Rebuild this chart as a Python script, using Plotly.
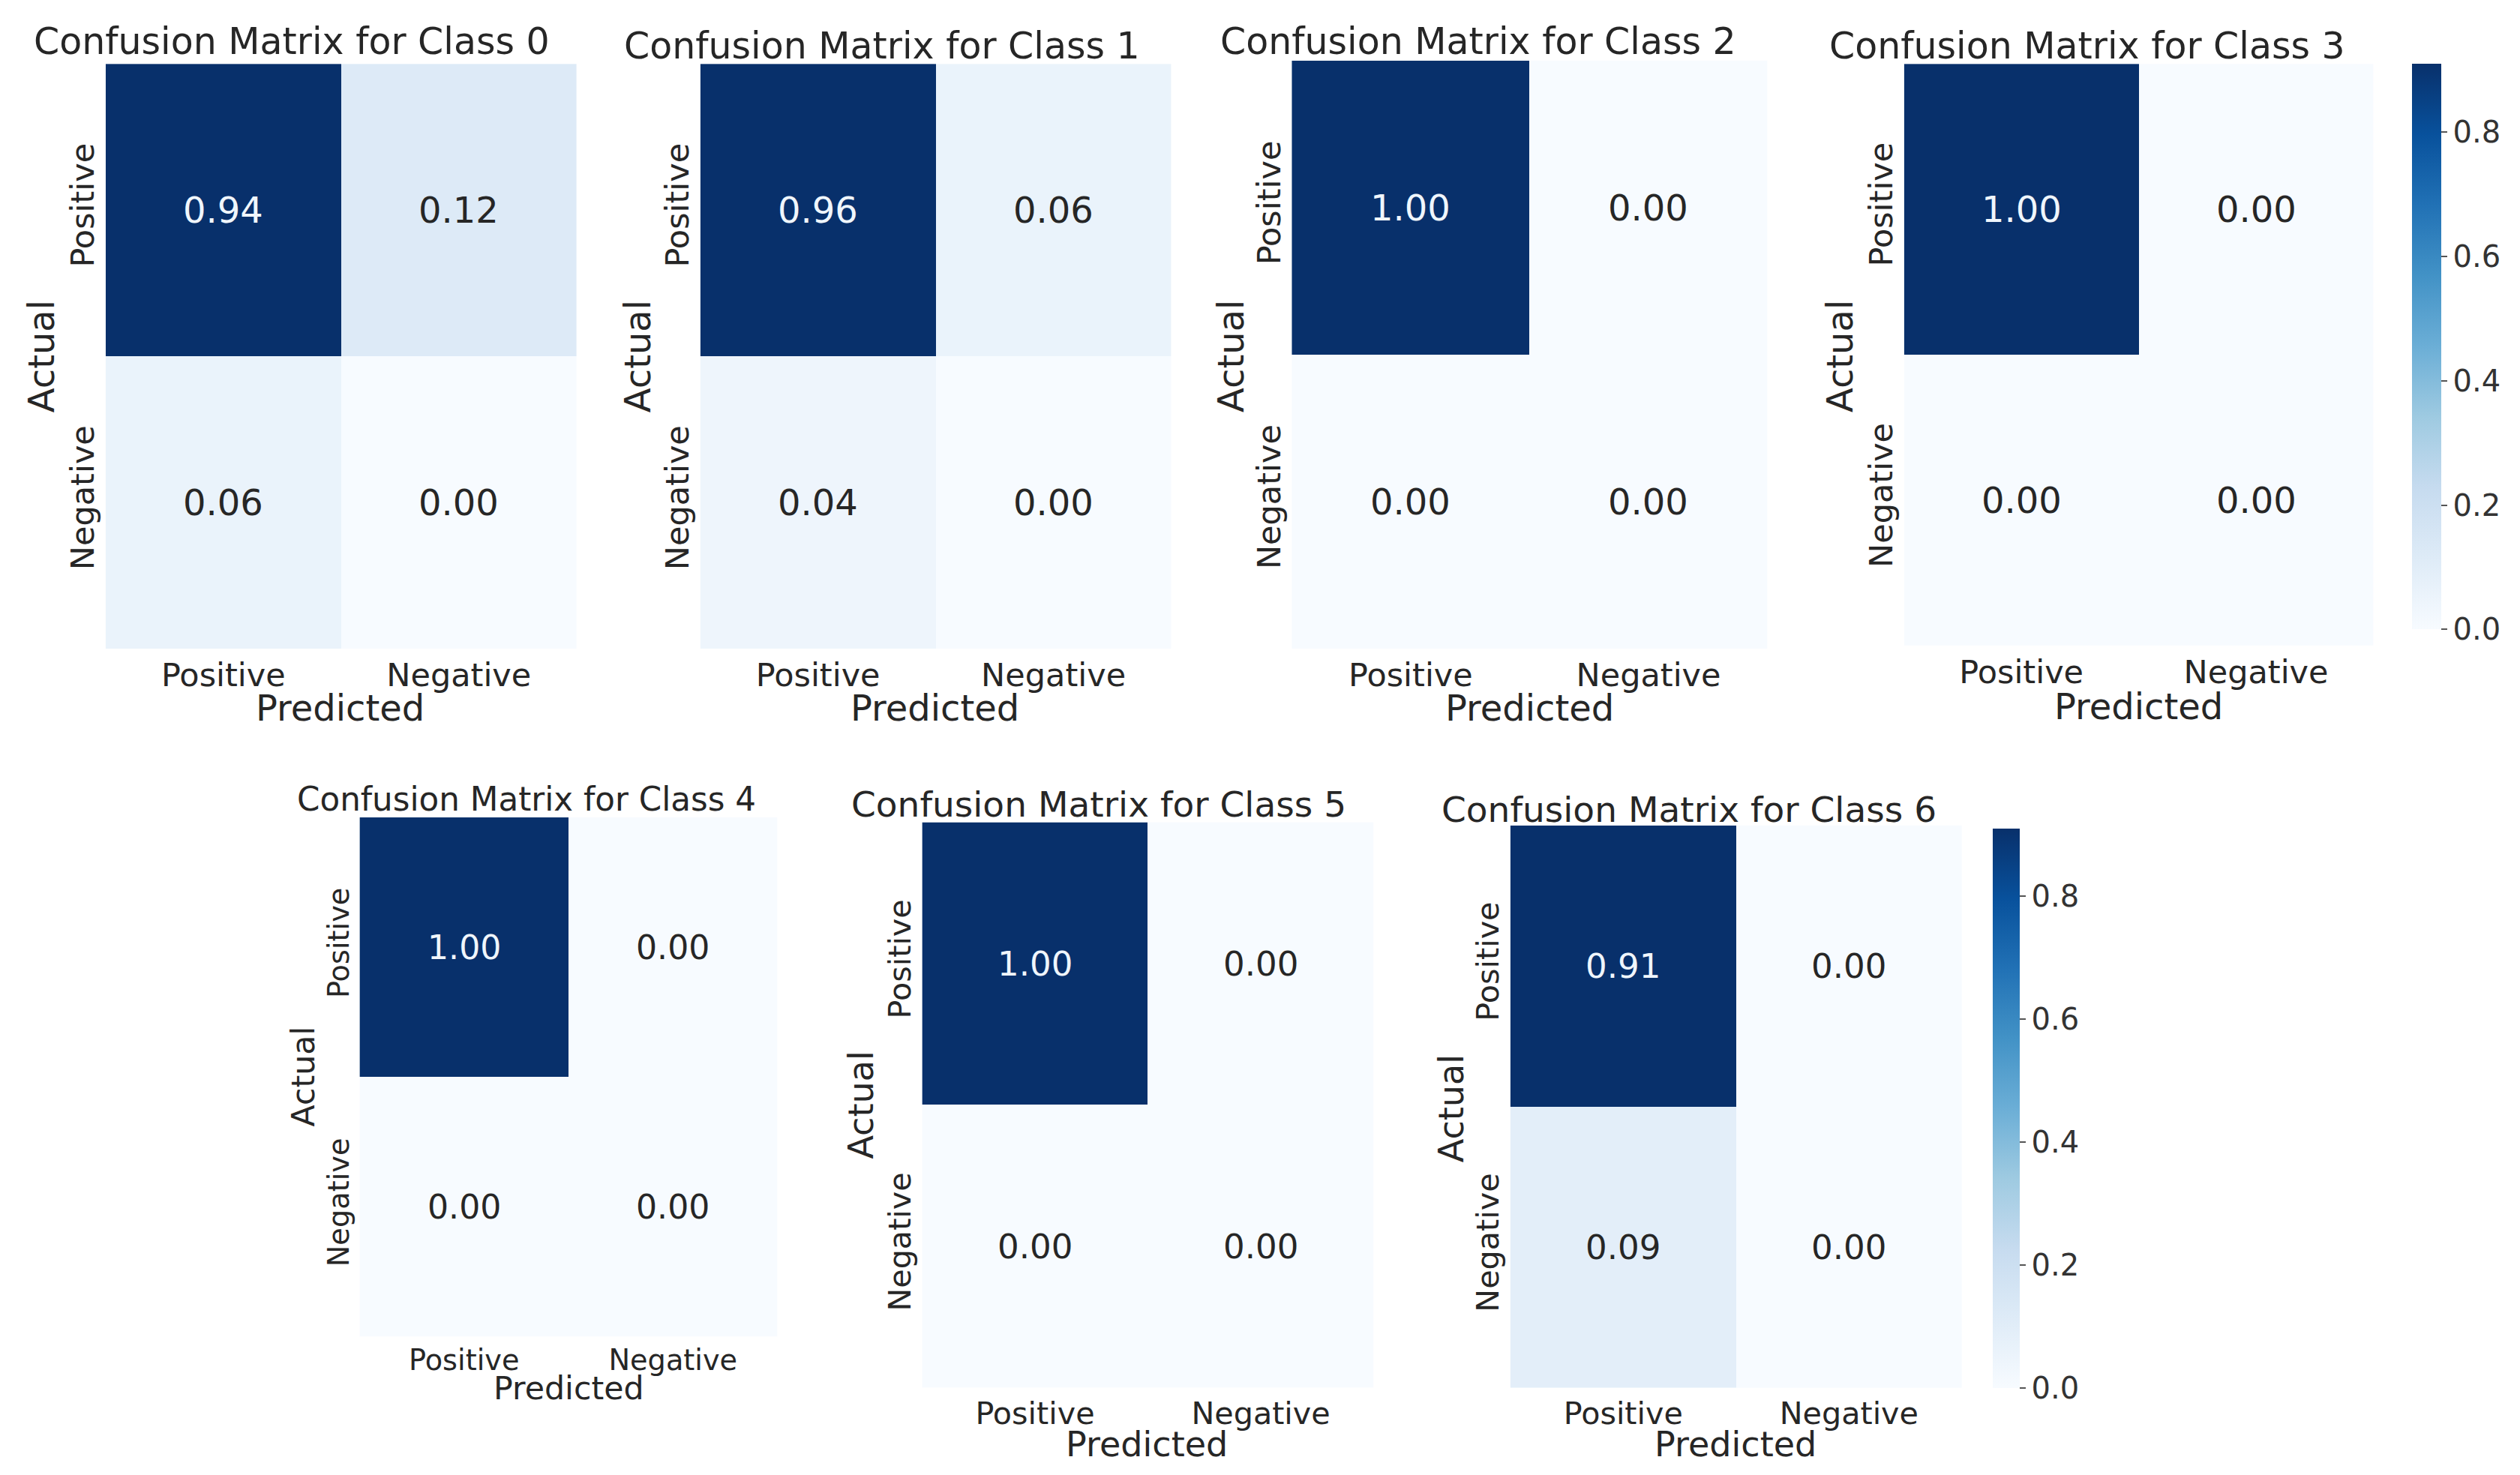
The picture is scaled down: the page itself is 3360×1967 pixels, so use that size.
import plotly.graph_objects as go

# ---------------- data ----------------
labels = ["Positive", "Negative"]
class_names = ["0", "1", "2", "3", "4", "5", "6"]
class0 = [[0.94, 0.12], [0.06, 0.00]]
class1 = [[0.96, 0.06], [0.04, 0.00]]
class2 = [[1.00, 0.00], [0.00, 0.00]]
class3 = [[1.00, 0.00], [0.00, 0.00]]
class4 = [[1.00, 0.00], [0.00, 0.00]]
class5 = [[1.00, 0.00], [0.00, 0.00]]
class6 = [[0.91, 0.00], [0.09, 0.00]]
matrices = [class0, class1, class2, class3, class4, class5, class6]
color_max = 0.91
cbar_ticks = [0.0, 0.2, 0.4, 0.6, 0.8]

# ---------------- style / layout ----------------
W, H = 3360, 1967
RW, RH = 1568.0, 918.0  # reference layout units


def fx(x):
    return x / RW


def fy(y):
    return 1 - y / RH


blues = [[0.0, "#f7fbff"], [0.125, "#deebf7"], [0.25, "#c6dbef"], [0.375, "#9ecae1"],
         [0.5, "#6baed6"], [0.625, "#4292c6"], [0.75, "#2171b5"], [0.875, "#08519c"],
         [1.0, "#08306b"]]

# panel boxes in reference units: (x0, x1, y0, y1)
boxes = [(62, 355, 36, 400), (432, 725, 36, 400), (800, 1096, 34, 400), (1181, 1473, 36, 398),
         (220, 480, 505, 828), (570, 851, 508, 860), (936, 1217, 510, 860)]
title_pos = [(178, 22), (545, 25), (916, 22), (1295, 25), (324, 494), (680, 497), (1047, 500)]
actual_pos = [(22, 218), (393, 218), (762, 218), (1141, 218), (185, 666), (532, 684), (899, 686)]
pred_pos = [(208, 437), (578, 437), (948, 437), (1327, 436), (350, 860), (710, 895), (1076, 895)]
# font scales per panel
scale = [1.0, 1.0, 1.0, 1.0, 0.89, 0.96, 0.96]
num_scale = [1.0, 1.0, 1.0, 1.0, 0.92, 0.94, 0.94]

TXT = "#262626"
FONT = "DejaVu Sans"

fig = go.Figure()
annotations = []
layout_axes = {}

for i, (m, name) in enumerate(zip(matrices, class_names)):
    k = i + 1
    xa = "x" if k == 1 else f"x{k}"
    ya = "y" if k == 1 else f"y{k}"
    s = scale[i]
    fig.add_trace(go.Heatmap(
        z=m, x=labels, y=labels, xaxis=xa, yaxis=ya,
        coloraxis="coloraxis" if i < 4 else "coloraxis2",
        hoverinfo="skip",
    ))
    x0, x1, y0, y1 = boxes[i]
    layout_axes[f"xaxis{'' if k == 1 else k}"] = dict(
        domain=[fx(x0), fx(x1)], anchor=ya, type="category",
        range=[-0.5, 1.5], showgrid=False, zeroline=False, showline=False,
        ticks="", ticklabelstandoff=6,
        tickfont=dict(family=FONT, size=43 * s, color=TXT), fixedrange=True)
    layout_axes[f"yaxis{'' if k == 1 else k}"] = dict(
        domain=[fy(y1), fy(y0)], anchor=xa, type="category",
        range=[1.5, -0.5], showgrid=False, zeroline=False, showline=False,
        ticks="", tickangle=-90, ticklabelstandoff=6,
        tickfont=dict(family=FONT, size=43 * s, color=TXT), fixedrange=True)
    # cell annotations
    for r, rl in enumerate(labels):
        for c, cl in enumerate(labels):
            v = m[r][c]
            col = "#f0f6fc" if v / color_max > 0.5 else TXT
            annotations.append(dict(
                x=cl, y=rl, xref=xa, yref=ya, text=f"{v:.2f}", showarrow=False,
                font=dict(family=FONT, size=48 * num_scale[i], color=col)))
    # title
    tx, ty = title_pos[i]
    annotations.append(dict(x=fx(tx), y=fy(ty), xref="paper", yref="paper",
                            text=f"Confusion Matrix for Class {name}", showarrow=False,
                            xanchor="center", yanchor="middle",
                            font=dict(family=FONT, size=49 * s, color=TXT)))
    ax_, ay_ = actual_pos[i]
    annotations.append(dict(x=fx(ax_), y=fy(ay_), xref="paper", yref="paper", text="Actual",
                            showarrow=False, textangle=-90, xanchor="center", yanchor="middle",
                            font=dict(family=FONT, size=48 * s, color=TXT)))
    px_, py_ = pred_pos[i]
    annotations.append(dict(x=fx(px_), y=fy(py_), xref="paper", yref="paper", text="Predicted",
                            showarrow=False, xanchor="center", yanchor="middle",
                            font=dict(family=FONT, size=48 * s, color=TXT)))


def cbar(x0, x1, y0, y1):
    return dict(
        x=fx(x0), xanchor="left", xpad=0, thickness=(x1 - x0) * W / RW,
        y=fy((y0 + y1) / 2), yanchor="middle", ypad=0, len=(y1 - y0) / RH, lenmode="fraction",
        outlinewidth=0, tickvals=cbar_ticks, tickformat=".1f", ticks="outside", ticklen=8,
        tickwidth=2, tickcolor="#555555",
        tickfont=dict(family=FONT, size=40, color="#333333"))


fig.update_layout(
    width=W, height=H, margin=dict(l=0, r=0, t=0, b=0),
    paper_bgcolor="white", plot_bgcolor="white",
    coloraxis=dict(colorscale=blues, cmin=0, cmax=color_max, colorbar=cbar(1497, 1515, 36, 388)),
    coloraxis2=dict(colorscale=blues, cmin=0, cmax=color_max, colorbar=cbar(1236, 1253, 512, 860)),
    annotations=annotations,
    showlegend=False,
    **layout_axes,
)

fig.write_html("out.html")
